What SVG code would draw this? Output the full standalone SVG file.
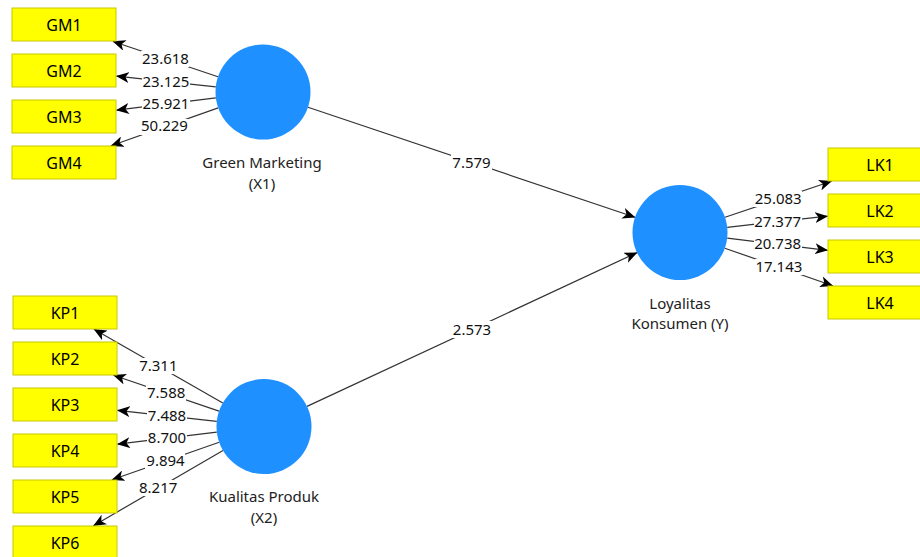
<svg xmlns="http://www.w3.org/2000/svg" width="920" height="557" viewBox="0 0 920 557">
<style>
.ind rect{fill:#FFFF00;stroke:#C8C800;stroke-width:1}
.ind text{font-family:"Noto Sans","Open Sans",sans-serif;font-size:16px;fill:#000;text-anchor:middle}
.lv circle{fill:#1E90FF}
.lv text{font-family:"Noto Sans","Open Sans",sans-serif;font-size:15px;fill:#222;text-anchor:middle}
.cn line{stroke:#333;stroke-width:1.2;marker-end:url(#ah)}
.lb rect{fill:#fff}
.lb text{font-family:"Noto Sans","Open Sans",sans-serif;font-size:15px;fill:#111;text-anchor:middle}
</style>
<defs>
<marker id="ah" viewBox="0 0 13 11" refX="12.5" refY="5.5" markerWidth="13" markerHeight="11" markerUnits="userSpaceOnUse" orient="auto">
<path d="M0,0 L13,5.5 L0,11 L3.5,5.5 z" fill="#000"/>
</marker>
</defs>
<rect width="920" height="557" fill="#fff"/>

<g id="connectors" class="cn">
<line x1="218" y1="76.7" x2="113" y2="41.5"/>
<line x1="215.8" y1="86.9" x2="116.5" y2="76.1"/>
<line x1="215.9" y1="97.8" x2="116.5" y2="110.1"/>
<line x1="218.2" y1="107.9" x2="111" y2="145.8"/>
<line x1="222.8" y1="402.9" x2="94" y2="329.2"/>
<line x1="219" y1="411.1" x2="113.5" y2="375.2"/>
<line x1="216.8" y1="421.3" x2="117.5" y2="410.3"/>
<line x1="216.8" y1="432.2" x2="117.5" y2="444.2"/>
<line x1="219.2" y1="442.3" x2="112" y2="479.8"/>
<line x1="223" y1="450.4" x2="93.5" y2="525.8"/>
<line x1="725" y1="217.2" x2="831.5" y2="181.2"/>
<line x1="727.2" y1="227.3" x2="827.5" y2="216.2"/>
<line x1="727.2" y1="238.2" x2="827.5" y2="250.3"/>
<line x1="724.8" y1="248.2" x2="832.8" y2="285.8"/>
<line x1="308" y1="107.2" x2="635" y2="217.3"/>
<line x1="307" y1="406.4" x2="637" y2="252.6"/>
</g>

<g id="labels" class="lb">
<rect x="141" y="51" width="48" height="16"/><text x="165.5" y="64">23.618</text>
<rect x="142" y="74" width="48" height="15"/><text x="166" y="87">23.125</text>
<rect x="142" y="96" width="48" height="15"/><text x="166" y="108.5">25.921</text>
<rect x="140" y="119" width="48" height="16"/><text x="164.5" y="131">50.229</text>
<rect x="138" y="358" width="40" height="16"/><text x="158.3" y="371">7.311</text>
<rect x="146" y="385" width="40" height="16"/><text x="166.2" y="398">7.588</text>
<rect x="147" y="408" width="40" height="15"/><text x="167" y="420.5">7.488</text>
<rect x="147" y="431" width="40" height="15"/><text x="167" y="443">8.700</text>
<rect x="145" y="453" width="40" height="16"/><text x="165.5" y="466">9.894</text>
<rect x="138" y="480" width="40" height="16"/><text x="158.2" y="493">8.217</text>
<rect x="754" y="191" width="48" height="16"/><text x="778.2" y="204">25.083</text>
<rect x="754" y="214" width="48" height="15"/><text x="777.6" y="226.5">27.377</text>
<rect x="754" y="237" width="48" height="15"/><text x="777.6" y="249">20.738</text>
<rect x="755" y="259" width="48" height="16"/><text x="778.9" y="272">17.143</text>
<rect x="451" y="154" width="41" height="17"/><text x="471.5" y="167.5">7.579</text>
<rect x="452" y="321" width="41" height="17"/><text x="472" y="334.5">2.573</text>
</g>

<g id="GM1" class="ind"><rect x="12" y="8" width="104" height="33"/><text x="64" y="30.5">GM1</text></g>
<g id="GM2" class="ind"><rect x="12" y="54" width="104" height="33"/><text x="64" y="76.5">GM2</text></g>
<g id="GM3" class="ind"><rect x="12" y="100" width="104" height="33"/><text x="64" y="122.5">GM3</text></g>
<g id="GM4" class="ind"><rect x="12" y="146" width="104" height="33"/><text x="64" y="168.5">GM4</text></g>

<g id="KP1" class="ind"><rect x="13" y="296" width="104" height="33"/><text x="65" y="318.5">KP1</text></g>
<g id="KP2" class="ind"><rect x="13" y="342" width="104" height="33"/><text x="65" y="364.5">KP2</text></g>
<g id="KP3" class="ind"><rect x="13" y="388" width="104" height="33"/><text x="65" y="410.5">KP3</text></g>
<g id="KP4" class="ind"><rect x="13" y="434" width="104" height="33"/><text x="65" y="456.5">KP4</text></g>
<g id="KP5" class="ind"><rect x="13" y="480" width="104" height="33"/><text x="65" y="502.5">KP5</text></g>
<g id="KP6" class="ind"><rect x="13" y="526" width="104" height="33"/><text x="65" y="548.5">KP6</text></g>

<g id="LK1" class="ind"><rect x="828" y="148" width="104" height="33"/><text x="880" y="170.5">LK1</text></g>
<g id="LK2" class="ind"><rect x="828" y="194" width="104" height="33"/><text x="880" y="216.5">LK2</text></g>
<g id="LK3" class="ind"><rect x="828" y="240" width="104" height="33"/><text x="880" y="262.5">LK3</text></g>
<g id="LK4" class="ind"><rect x="828" y="286" width="104" height="33"/><text x="880" y="308.5">LK4</text></g>

<g id="X1" class="lv"><circle cx="263" cy="92" r="47.5"/><text x="262" y="168">Green Marketing</text><text x="262" y="189">(X1)</text></g>
<g id="X2" class="lv"><circle cx="264" cy="426.5" r="47.5"/><text x="264" y="502">Kualitas Produk</text><text x="264" y="523">(X2)</text></g>
<g id="Y" class="lv"><circle cx="680" cy="232.5" r="47.5"/><text x="680" y="308.5">Loyalitas</text><text x="680" y="329">Konsumen (Y)</text></g>
</svg>
